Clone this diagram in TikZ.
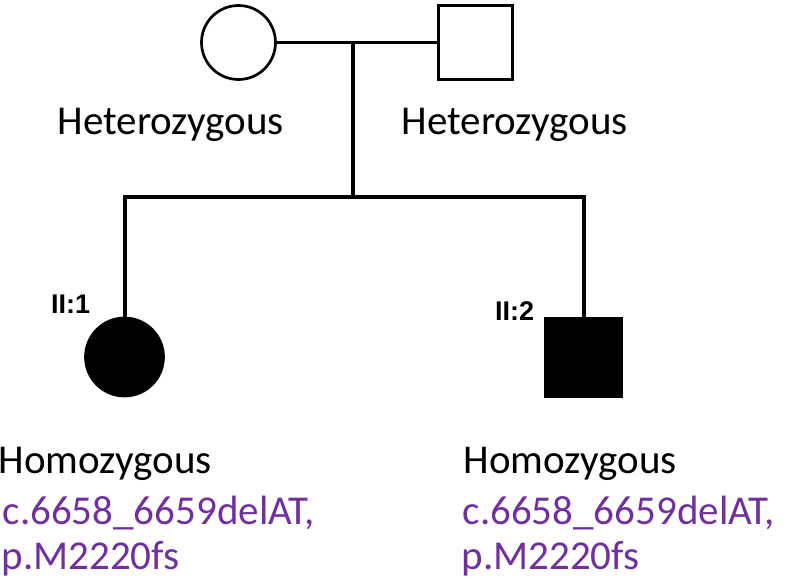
\documentclass[tikz,border=0pt]{standalone}
\usepackage{fontspec}
\setmainfont{Carlito}
\newfontfamily\labelfont{Liberation Sans}
\definecolor{mutpurple}{HTML}{7030A0}
\begin{document}
\begin{tikzpicture}[x=1pt,y=-1pt,
  line/.style={line width=3.8pt},
  female/.style={circle,draw,line width=2.7pt,minimum size=74pt,inner sep=0pt},
  male/.style={rectangle,draw,line width=2.7pt,minimum size=74.5pt,inner sep=0pt},
  affected/.style={fill=black},
  txt/.style={anchor=base west,inner sep=0pt,font=\fontsize{41}{48}\selectfont},
  mut/.style={txt,text=mutpurple},
  idlab/.style={anchor=base west,inner sep=0pt,font=\labelfont\bfseries\fontsize{27}{30}\selectfont}]
\useasboundingbox (0,0) rectangle (790,587);
% generation I
\node[female] (mother) at (238.5,42.5) {};
\node[male] (father) at (475.5,42.5) {};
\coordinate (mate) at (353,42.5);
\coordinate (sib) at (353,197);
\draw[line] (mother.east) -- (father.west);
\draw[line] (mate) -- (sib);
% generation II
\node[female,affected,minimum size=78pt] (c1) at (124.5,357) {};
\node[male,affected,minimum width=77pt,minimum height=79pt] (c2) at (583.5,357.5) {};
\draw[line,line width=4pt] (c1) |- (sib) -| (c2);
% labels
\node[txt] (hm) at (57.5,134) {Heterozygous};
\node[txt] (hf) at (401.5,134) {Heterozygous};
\node[idlab] (id1) at (51,313) {II:1};
\node[idlab] (id2) at (495,320) {II:2};
\node[txt] (h1) at (-1.5,473) {Homozygous};
\node[mut] (m1a) at (2.5,524) {c.6658\_6659delAT,};
\node[mut] (m1b) at (1.5,569) {p.M2220fs};
\node[txt] (h2) at (463.5,473) {Homozygous};
\node[mut] (m2a) at (462.5,524) {c.6658\_6659delAT,};
\node[mut] (m2b) at (461.5,569) {p.M2220fs};
\end{tikzpicture}
\end{document}
